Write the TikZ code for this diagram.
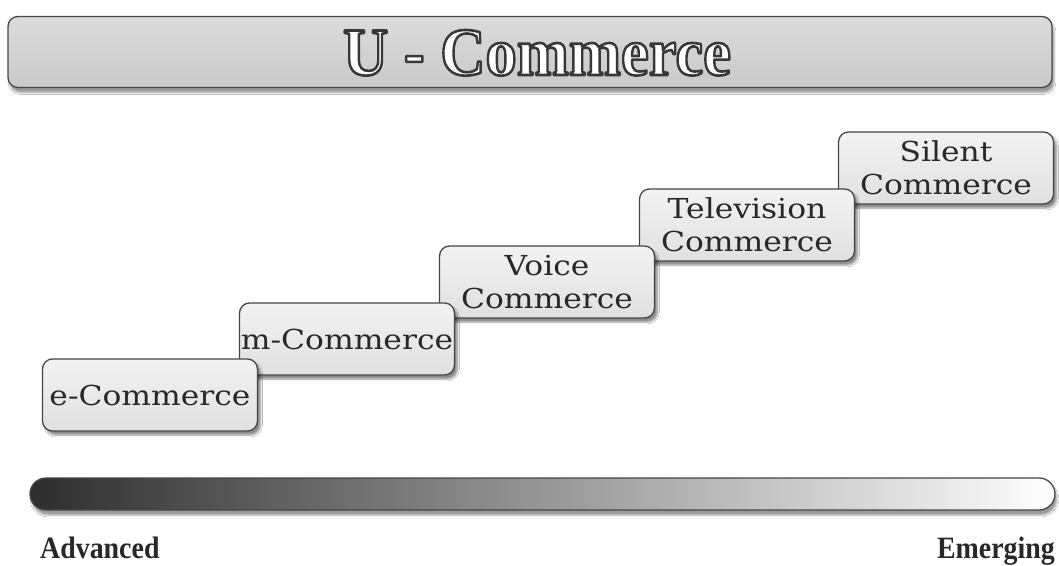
\documentclass[tikz,border=0pt]{standalone}
\usepackage{fontspec}
\usepackage{graphicx}
\setmainfont{Liberation Serif}
\newfontfamily\boxfont{DejaVu Serif}
\usetikzlibrary{shadows.blur}
\definecolor{edge}{RGB}{70,70,70}
\definecolor{ink}{RGB}{40,40,40}
% wide setting of box labels
\newcommand\widetext[1]{\scalebox{1.14}[1]{#1}}
% white lettering with a dark outline (PDF text render mode 2)
\newcommand\outlined[1]{\special{pdf:literal direct 2.6 w 1 j 0.22 0.22 0.22 RG 2 Tr}#1\special{pdf:literal direct 0 Tr}}
\tikzset{
  stepbox/.style={draw=edge, line width=1.3pt, rounded corners=10pt,
    minimum width=215pt, minimum height=72pt, inner sep=0pt,
    top color=white!90!gray, bottom color=gray!24,
    blur shadow={shadow xshift=3pt, shadow yshift=-4pt, shadow blur steps=6, shadow opacity=45},
    align=center, text=ink, font=\boxfont\fontsize{27.5}{33}\selectfont},
  endlabel/.style={font=\bfseries\fontsize{31}{31}\selectfont, text=ink, inner sep=0pt, xscale=0.9}
}
\begin{document}
\begin{tikzpicture}[x=1pt, y=-1pt]
\useasboundingbox (0,0) rectangle (1059,565);
\fill[white] (0,0) rectangle (1059,565);

% title bar
\node[draw=edge, line width=1.3pt, rounded corners=10pt, minimum width=1044pt, minimum height=71pt,
  top color=gray!28, bottom color=gray!42,
  blur shadow={shadow xshift=2pt, shadow yshift=-5pt, shadow blur steps=6, shadow opacity=40}]
  (titlebar) at (530,52) {};
\node[font=\bfseries\fontsize{68}{68}\selectfont, text=white, inner sep=0pt, xscale=0.92, anchor=base]
  (title) at (537,75) {\outlined{U - Commerce}};

% staircase of commerce types (drawn back to front)
\node[stepbox] (silent) at (946,168) {\widetext{Silent}\\\widetext{Commerce}};
\node[stepbox] (tv)     at (747,225) {\widetext{Television}\\\widetext{Commerce}};
\node[stepbox] (voice)  at (547,282) {\widetext{Voice}\\\widetext{Commerce}};
\node[stepbox] (mcom)   at (347,339) {\widetext{m-Commerce}};
\node[stepbox] (ecom)   at (150,395) {\widetext{e-Commerce}};

% maturity scale
\node[draw=edge, line width=1.3pt, rounded corners=16pt, minimum width=1025pt, minimum height=32pt,
  left color={rgb,255:red,45;green,45;blue,45}, right color=white,
  blur shadow={shadow xshift=2pt, shadow yshift=-5pt, shadow blur steps=6, shadow opacity=40}]
  (scale) at (542.5,494) {};
\node[endlabel, anchor=base west] (adv) at (40,558) {Advanced};
\node[endlabel, anchor=base east] (emg) at (1055,558) {Emerging};
\end{tikzpicture}
\end{document}
